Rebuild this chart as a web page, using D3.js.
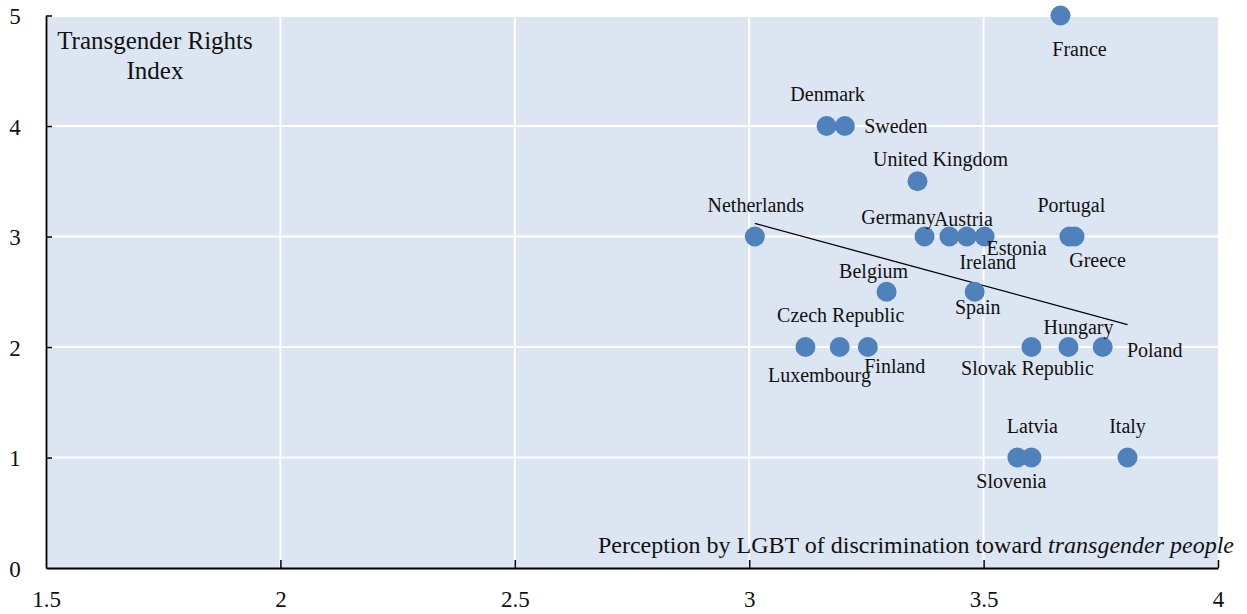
<html>
<head>
<meta charset='UTF-8'>
<title>Transgender Rights Index</title>
<script src='https://d3js.org/d3.v7.min.js'></script>
<style>
    body { margin: 0; background: #fff; }
</style>
</head>

<body>
    <svg width="1247" height="614" id="chart"></svg>

    <script type='text/javascript'>
        // data
        var countries = ['France', 'Denmark', 'Sweden', 'United Kingdom', 'Netherlands', 'Germany',
                         'Austria', 'Ireland', 'Estonia', 'Portugal', 'Greece', 'Belgium', 'Spain',
                         'Luxembourg', 'Czech Republic', 'Finland', 'Slovak Republic', 'Hungary',
                         'Poland', 'Slovenia', 'Latvia', 'Italy'];
        var perception = [3.664, 3.165, 3.204, 3.359, 3.012, 3.374,
                          3.427, 3.464, 3.502, 3.683, 3.694, 3.293, 3.481,
                          3.120, 3.193, 3.253, 3.602, 3.681,
                          3.754, 3.572, 3.602, 3.807];
        var rightsIndex = [5, 4, 4, 3.5, 3, 3,
                           3, 3, 3, 3, 3, 2.5, 2.5,
                           2, 2, 2, 2, 2,
                           2, 1, 1, 1];
        var xTicks = [1.5, 2, 2.5, 3, 3.5, 4];
        var yTicks = [0, 1, 2, 3, 4, 5];

        var serif = 'Liberation Serif';

        // where each name sits relative to its dot (px)
        var labelPos = {
            'France': [19, 33], 'Denmark': [1, -32], 'Sweden': [51, 0], 'United Kingdom': [23, -22],
            'Netherlands': [1, -32], 'Germany': [-26, -20], 'Austria': [14, -18], 'Ireland': [21, 25],
            'Estonia': [32, 11], 'Portugal': [2, -32], 'Greece': [23, 23], 'Belgium': [-13, -21],
            'Spain': [3, 15], 'Luxembourg': [14, 28], 'Czech Republic': [1, -32], 'Finland': [27, 19],
            'Slovak Republic': [-4, 21], 'Hungary': [10, -20], 'Poland': [52, 3], 'Slovenia': [-6, 23],
            'Latvia': [1, -32], 'Italy': [0, -32]
        };

        var data = countries.map(function(c, i) {
            return { name: c, x: perception[i], y: rightsIndex[i] };
        });

        var margin = {top: 15.5, right: 29, bottom: 46, left: 46},
            width = 1247 - margin.left - margin.right,
            height = 614 - margin.top - margin.bottom;

        var svg = d3.select('#chart');
        var g = svg.append('g')
                   .attr('transform', 'translate(' + margin.left + ',' + margin.top + ')');

        var x = d3.scaleLinear().domain([1.5, 4]).range([0, width]),
            y = d3.scaleLinear().domain([0, 5]).range([height, 0]);

        g.append('rect')
         .attr('x', 0)
         .attr('y', 1.5)
         .attr('width', width)
         .attr('height', height - 1.5)
         .attr('fill', '#dce6f2');

        // grid lines
        g.selectAll('.vgrid')
         .data(xTicks.slice(1, -1))
         .enter().append('line')
           .attr('x1', function(d) { return x(d); })
           .attr('x2', function(d) { return x(d); })
           .attr('y1', y(5))
           .attr('y2', y(0))
           .attr('stroke', '#fff')
           .attr('stroke-width', 2);

        g.selectAll('.hgrid')
         .data(yTicks.slice(1, -1))
         .enter().append('line')
           .attr('x1', 0)
           .attr('x2', width)
           .attr('y1', function(d) { return y(d); })
           .attr('y2', function(d) { return y(d); })
           .attr('stroke', '#fff')
           .attr('stroke-width', 2);

        // axes
        var xAxis = g.append('g')
                     .attr('transform', 'translate(0,' + height + ')')
                     .call(d3.axisBottom(x).tickValues(xTicks).tickSizeInner(-8).tickSizeOuter(0)
                             .tickPadding(23).tickFormat(d3.format('')));
        var yAxis = g.append('g')
                     .call(d3.axisLeft(y).tickValues(yTicks).tickSizeInner(-6).tickSizeOuter(0)
                             .tickPadding(24).tickFormat(d3.format('d')));

        [xAxis, yAxis].forEach(function(a) {
            a.attr('font-family', serif).attr('font-size', 23);
            a.select('.domain').attr('stroke', '#000').attr('stroke-width', 1.8);
            a.selectAll('.tick line').attr('stroke', '#000').attr('stroke-width', 1.5);
            a.selectAll('.tick text').attr('fill', '#111');
        });
        xAxis.selectAll('.tick line').filter(function(d) { return d === 1.5; }).remove();
        yAxis.selectAll('.tick text').attr('x', -31).attr('dy', '0.36em').attr('text-anchor', 'middle');
        yAxis.selectAll('.tick line').filter(function(d) { return d === 0; }).remove();

        // trend line (least squares fit over the points)
        var mx = d3.mean(data, function(d) { return d.x; }),
            my = d3.mean(data, function(d) { return d.y; });
        var slope = d3.sum(data, function(d) { return (d.x - mx) * (d.y - my); }) /
                    d3.sum(data, function(d) { return (d.x - mx) * (d.x - mx); });
        var xExt = d3.extent(data, function(d) { return d.x; });

        g.append('line')
         .attr('x1', x(xExt[0]))
         .attr('y1', y(my + slope * (xExt[0] - mx)))
         .attr('x2', x(xExt[1]))
         .attr('y2', y(my + slope * (xExt[1] - mx)))
         .attr('stroke', '#000')
         .attr('stroke-width', 1.3);

        // points
        g.selectAll('.dot')
         .data(data)
         .enter().append('circle')
           .attr('cx', function(d) { return x(d.x); })
           .attr('cy', function(d) { return y(d.y); })
           .attr('r', 10)
           .attr('fill', '#4f81bd');

        g.selectAll('.label')
         .data(data)
         .enter().append('text')
           .attr('x', function(d) { return x(d.x) + labelPos[d.name][0]; })
           .attr('y', function(d) { return y(d.y) + labelPos[d.name][1]; })
           .attr('dy', '0.35em')
           .attr('text-anchor', 'middle')
           .attr('font-family', serif)
           .attr('font-size', 20)
           .attr('fill', '#111')
           .text(function(d) { return d.name; });

        // axis titles
        var yTitle = g.append('text')
                      .attr('x', 109)
                      .attr('y', 33)
                      .attr('text-anchor', 'middle')
                      .attr('font-family', serif)
                      .attr('font-size', 25)
                      .attr('fill', '#111');
        yTitle.append('tspan').attr('x', 109).text('Transgender Rights');
        yTitle.append('tspan').attr('x', 109).attr('dy', 30).text('Index');

        var xTitle = g.append('text')
                      .attr('x', width + 16)
                      .attr('y', height - 15)
                      .attr('text-anchor', 'end')
                      .attr('font-family', serif)
                      .attr('font-size', 24)
                      .attr('fill', '#111');
        xTitle.append('tspan').text('Perception by LGBT of discrimination toward ');
        xTitle.append('tspan').attr('font-style', 'italic').text('transgender people');
    </script>
</body>
</html>
